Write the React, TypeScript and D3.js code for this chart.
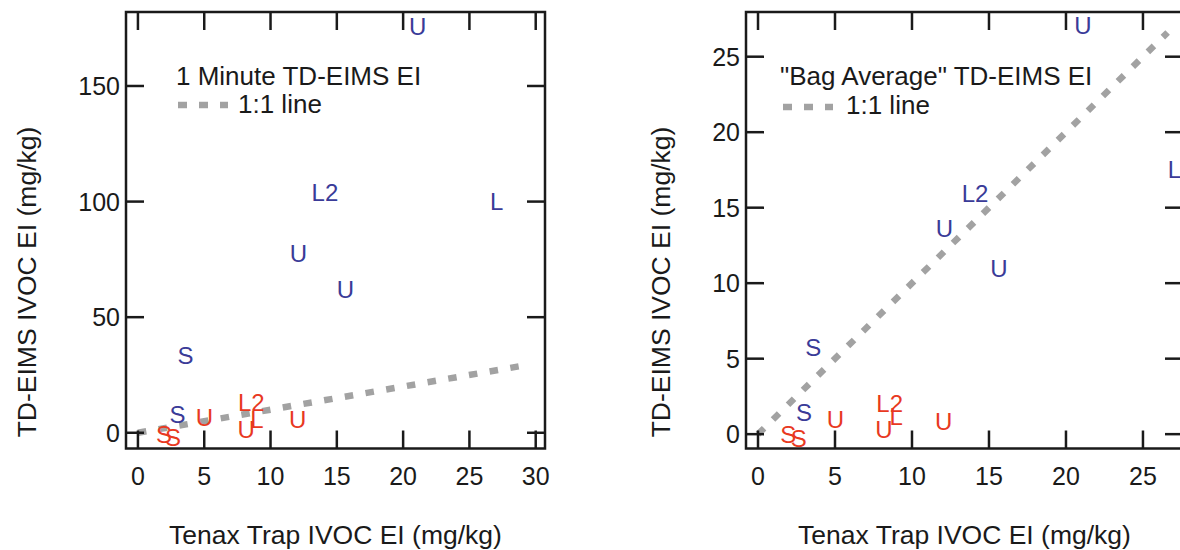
import React from "react";
import * as d3 from "d3";

// ---------------- data ----------------
const BLUE_LABELS = ["S", "S", "U", "L2", "U", "U", "L"];
const BLUE_TENAX = [2.98, 3.58, 12.1, 14.1, 15.65, 21.1, 27.05];
const BLUE_ONE_MIN = [8.0, 33.3, 77.6, 104, 62, 176, 100];
const BLUE_BAG_AVG = [1.44, 5.72, 13.66, 15.95, 10.95, 27.08, 17.52];

const RED_LABELS = ["S", "S", "U", "U", "L2", "L", "U"];
const RED_TENAX = [1.97, 2.65, 5.02, 8.17, 8.55, 8.97, 12.05];
const RED_ONE_MIN = [-0.8, -2.0, 6.5, 1.6, 13.1, 6.0, 5.7];
const RED_BAG_AVG = [-0.02, -0.25, 1.0, 0.3, 2.05, 1.2, 0.88];

const X_TICKS_LEFT = [0, 5, 10, 15, 20, 25, 30];
const Y_TICKS_LEFT = [0, 50, 100, 150];
const X_TICKS_RIGHT = [0, 5, 10, 15, 20, 25];
const Y_TICKS_RIGHT = [0, 5, 10, 15, 20, 25];

const LEGEND_TITLES = ["1 Minute TD-EIMS EI", "\"Bag Average\" TD-EIMS EI"];
const LEGEND_LINE_LABEL = "1:1 line";
const X_TITLE = "Tenax Trap IVOC EI (mg/kg)";
const Y_TITLE = "TD-EIMS IVOC EI (mg/kg)";
const ONE_TO_ONE_END = [29.4, 26.6];

// ---------------- style ----------------
const FONT = "'Liberation Sans', Arial, Helvetica, sans-serif";
const BLUE = "#3a3b98";
const RED = "#e8391f";
const INK = "#1a1a1a";
const GRAY = "#a2a2a2";
const TICK_LEN = 18;

type PanelCfg = {
  left: number;
  right: number;
  top: number;
  bottom: number;
  xDomain: [number, number];
  yDomain: [number, number];
  xTicks: number[];
  yTicks: number[];
  blueY: number[];
  redY: number[];
  legendTitle: string;
  legendX: number;
  legendTitleY: number;
  sampleX0: number;
  sampleX1: number;
  sampleY: number;
  lineLabelX: number;
  lineLabelY: number;
  yTitleX: number;
  lineEnd: number;
};

function Panel({ c }: { c: PanelCfg }) {
  const x = d3.scaleLinear().domain(c.xDomain).range([c.left, c.right]);
  const y = d3.scaleLinear().domain(c.yDomain).range([c.bottom, c.top]);
  const line = d3
    .line<number>()
    .x((d) => x(d))
    .y((d) => y(d));
  const cx = (c.left + c.right) / 2;
  const titleCy = 282;

  return (
    <g>
      {/* 1:1 line */}
      <path
        d={line([0, c.lineEnd]) || ""}
        fill="none"
        stroke={GRAY}
        strokeWidth={6.5}
        strokeDasharray="8.5 12.5"
      />
      {/* points as letters */}
      {BLUE_LABELS.map((lab, i) => (
        <text
          key={"b" + i}
          x={x(BLUE_TENAX[i])}
          y={y(c.blueY[i])}
          dy="0.36em"
          textAnchor="middle"
          fontSize={24}
          fontFamily={FONT}
          fill={BLUE}
        >
          {lab}
        </text>
      ))}
      {RED_LABELS.map((lab, i) => (
        <text
          key={"r" + i}
          x={x(RED_TENAX[i])}
          y={y(c.redY[i])}
          dy="0.36em"
          textAnchor="middle"
          fontSize={24}
          fontFamily={FONT}
          fill={RED}
        >
          {lab}
        </text>
      ))}
      {/* frame */}
      <rect
        x={c.left}
        y={c.top}
        width={c.right - c.left}
        height={c.bottom - c.top}
        fill="none"
        stroke={INK}
        strokeWidth={2.5}
      />
      {/* x ticks */}
      {c.xTicks.map((t) => (
        <g key={"xt" + t}>
          <line x1={x(t)} x2={x(t)} y1={c.bottom} y2={c.bottom - TICK_LEN} stroke={INK} strokeWidth={2.5} />
          <line x1={x(t)} x2={x(t)} y1={c.top} y2={c.top + TICK_LEN} stroke={INK} strokeWidth={2.5} />
          <text x={x(t)} y={c.bottom + 36.5} textAnchor="middle" fontSize={25} fontFamily={FONT} fill={INK}>
            {t}
          </text>
        </g>
      ))}
      {/* y ticks */}
      {c.yTicks.map((t) => (
        <g key={"yt" + t}>
          <line x1={c.left} x2={c.left + TICK_LEN} y1={y(t)} y2={y(t)} stroke={INK} strokeWidth={2.5} />
          <line x1={c.right} x2={c.right - TICK_LEN} y1={y(t)} y2={y(t)} stroke={INK} strokeWidth={2.5} />
          <text x={c.left - 6} y={y(t)} dy="0.36em" textAnchor="end" fontSize={25} fontFamily={FONT} fill={INK}>
            {t}
          </text>
        </g>
      ))}
      {/* axis titles */}
      <text x={cx} y={544} textAnchor="middle" fontSize={26.5} fontFamily={FONT} fill={INK}>
        {X_TITLE}
      </text>
      <text
        transform={`translate(${c.yTitleX},${titleCy}) rotate(-90)`}
        textAnchor="middle"
        fontSize={26.5}
        fontFamily={FONT}
        fill={INK}
      >
        {Y_TITLE}
      </text>
      {/* legend */}
      <text x={c.legendX} y={c.legendTitleY} fontSize={26} fontFamily={FONT} fill={INK}>
        {c.legendTitle}
      </text>
      <line
        x1={c.sampleX0}
        x2={c.sampleX1}
        y1={c.sampleY}
        y2={c.sampleY}
        stroke={GRAY}
        strokeWidth={6.5}
        strokeDasharray="9 12"
      />
      <text x={c.lineLabelX} y={c.lineLabelY} fontSize={26} fontFamily={FONT} fill={INK}>
        {LEGEND_LINE_LABEL}
      </text>
    </g>
  );
}

export default function App() {
  const leftCfg: PanelCfg = {
    left: 126,
    right: 545,
    top: 12,
    bottom: 448.5,
    xDomain: [-0.9, 30.7],
    yDomain: [-6.8, 182],
    xTicks: X_TICKS_LEFT,
    yTicks: Y_TICKS_LEFT,
    blueY: BLUE_ONE_MIN,
    redY: RED_ONE_MIN,
    legendTitle: LEGEND_TITLES[0],
    legendX: 176,
    legendTitleY: 85,
    sampleX0: 178,
    sampleX1: 228,
    sampleY: 105,
    lineLabelX: 238,
    lineLabelY: 113,
    yTitleX: 36,
    lineEnd: ONE_TO_ONE_END[0],
  };
  const rightCfg: PanelCfg = {
    left: 746,
    right: 1183,
    top: 12,
    bottom: 448.5,
    xDomain: [-0.78, 27.6],
    yDomain: [-0.95, 27.96],
    xTicks: X_TICKS_RIGHT,
    yTicks: Y_TICKS_RIGHT,
    blueY: BLUE_BAG_AVG,
    redY: RED_BAG_AVG,
    legendTitle: LEGEND_TITLES[1],
    legendX: 780,
    legendTitleY: 85,
    sampleX0: 783,
    sampleX1: 833,
    sampleY: 107,
    lineLabelX: 846,
    lineLabelY: 114,
    yTitleX: 670,
    lineEnd: ONE_TO_ONE_END[1],
  };
  return (
    <div style={{ position: "absolute", left: 0, top: 0, width: 1180, height: 550, overflow: "hidden", background: "#fff" }}>
      <svg width={1180} height={550} style={{ display: "block" }}>
        <rect width={1180} height={550} fill="#fff" />
        <Panel c={leftCfg} />
        <Panel c={rightCfg} />
      </svg>
    </div>
  );
}
